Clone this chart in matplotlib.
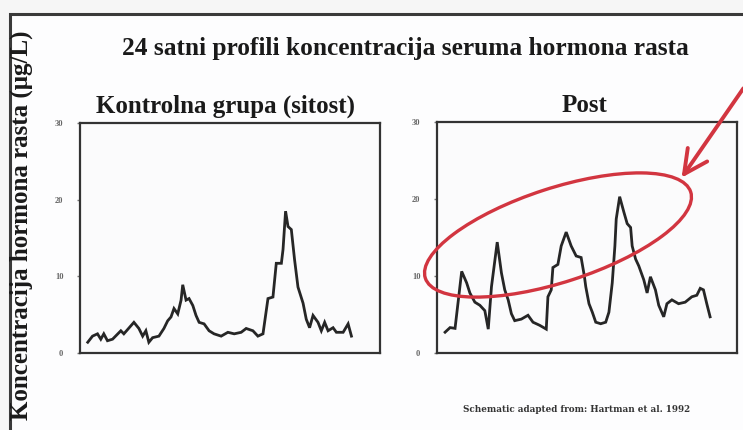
import matplotlib.pyplot as plt
from matplotlib.patches import Ellipse, Rectangle

# 24h growth hormone profiles (hours, ug/L)
t_kontrola = [0.0, 0.43, 0.88, 1.18, 1.45, 1.78, 2.24, 2.99, 3.26, 4.17, 4.62, 4.96,
              5.25, 5.52, 5.86, 6.43, 6.88, 7.22, 7.52, 7.79, 8.13, 8.43, 8.58, 8.88,
              9.15, 9.49, 9.78, 10.06, 10.51, 10.96, 11.41, 12.05, 12.66, 13.23, 13.86,
              14.31, 14.92, 15.37, 15.83, 16.28, 16.73, 17.03, 17.49, 17.64, 17.87,
              18.09, 18.39, 18.68, 18.99, 19.45, 19.74, 20.04, 20.35, 20.80, 21.10,
              21.40, 21.71, 22.16, 22.46, 23.07, 23.52, 23.82]
gh_kontrola = [1.4, 2.2, 2.5, 1.8, 2.5, 1.6, 1.8, 2.9, 2.5, 4.0, 3.2, 2.2,
               2.9, 1.4, 2.0, 2.2, 3.2, 4.2, 4.7, 5.8, 5.1, 6.9, 8.9, 6.9,
               7.1, 6.2, 4.9, 4.0, 3.8, 2.9, 2.5, 2.2, 2.7, 2.5, 2.7,
               3.2, 2.9, 2.2, 2.5, 7.1, 7.3, 11.7, 11.7, 13.5, 18.5,
               16.5, 16.1, 12.2, 8.6, 6.5, 4.4, 3.3, 4.9, 4.0, 2.9,
               4.0, 2.9, 3.3, 2.7, 2.7, 3.8, 2.2]

t_post = [0.03, 0.48, 0.93, 1.23, 1.53, 1.98, 2.27, 2.72, 3.17, 3.62, 3.93, 4.22,
          4.74, 5.12, 5.42, 5.73, 6.02, 6.32, 6.92, 7.52, 7.97, 8.57, 9.17, 9.32,
          9.62, 9.77, 10.22, 10.52, 10.97, 11.42, 11.87, 12.32, 12.61, 12.74, 13.03,
          13.33, 13.64, 14.09, 14.54, 14.83, 15.13, 15.37, 15.49, 15.80, 16.18,
          16.48, 16.79, 16.93, 17.24, 17.53, 17.98, 18.28, 18.58, 19.03, 19.33,
          19.78, 20.07, 20.52, 21.12, 21.72, 22.32, 22.77, 23.08, 23.37, 23.67, 23.97]
gh_post = [2.7, 3.3, 3.2, 6.9, 10.6, 9.1, 7.8, 6.6, 6.2, 5.5, 3.1, 8.6,
           14.4, 10.4, 8.2, 6.9, 5.1, 4.2, 4.4, 4.9, 4.0, 3.6, 3.1, 7.3,
           8.2, 11.1, 11.5, 13.9, 15.7, 13.9, 12.6, 12.4, 10.0, 8.6, 6.4,
           5.3, 4.0, 3.8, 4.0, 5.3, 9.1, 13.9, 17.4, 20.3, 18.3,
           16.8, 16.3, 13.9, 12.2, 11.3, 9.5, 7.8, 9.9, 8.2, 6.2,
           4.7, 6.4, 6.9, 6.4, 6.6, 7.3, 7.5, 8.4, 8.2, 6.4, 4.7]

y_ticks = [0, 10, 20, 30]

W, H = 743, 430
fig = plt.figure(figsize=(W / 100, H / 100), dpi=100)
fig.patch.set_facecolor('#f6f6f6')

serif = 'Liberation Serif'
line_col = '#262626'


def panel(rect, t, v):
    ax = fig.add_axes(rect)
    ax.plot(t, v, color=line_col, lw=2.0, solid_joinstyle='miter')
    ax.set_xlim(-0.7, 26.4)
    ax.set_ylim(0, 30)
    ax.set_xticks([])
    ax.set_yticks(y_ticks)
    ax.tick_params(axis='y', length=2, width=1, color='#777777', pad=10,
                   labelsize=6, labelcolor='#666666')
    for lab in ax.get_yticklabels():
        lab.set_fontfamily(serif)
        lab.set_fontweight('bold')
    for s in ax.spines.values():
        s.set_linewidth(1.6)
        s.set_color('#333333')
    ax.set_facecolor('#fbfbfc')
    return ax


def px_rect(x0, y0, x1, y1):
    return [x0 / W, 1 - y1 / H, (x1 - x0) / W, (y1 - y0) / H]


# slide frame (top and left edges visible)
fig.add_artist(Rectangle((10 / W, -0.1), 2, 1 - 14 / H + 0.1,
                         transform=fig.transFigure, facecolor='#fdfdfe',
                         edgecolor='#3a3a3a', lw=2.2, zorder=-5))

ax1 = panel(px_rect(80, 123, 380, 353), t_kontrola, gh_kontrola)
ax2 = panel(px_rect(437, 122, 737, 353), t_post, gh_post)

# overlay in pixel units for texts and red markings
ov = fig.add_axes([0, 0, 1, 1], zorder=10)
ov.set_xlim(0, W)
ov.set_ylim(H, 0)
ov.axis('off')
ov.patch.set_alpha(0)

txt = dict(fontweight='bold', family=serif, color='#1a1a1a')
ov.text(405, 48, '24 satni profili koncentracija seruma hormona rasta',
        ha='center', va='center', fontsize=18.3, **txt)
ov.text(225, 106, 'Kontrolna grupa (sitost)', ha='center', va='center',
        fontsize=18, **txt)
ov.text(585, 106, 'Post', ha='center', va='center', fontsize=18, **txt)
ov.text(21, 225, 'Koncentracija hormona rasta (\u03bcg/L)', ha='center',
        va='center', rotation=90, fontsize=18, **txt)
ov.text(577, 409, 'Schematic adapted from: Hartman et al. 1992', ha='center',
        va='center', fontsize=6.3, fontweight='bold', family='DejaVu Serif',
        color='#333333')

red = '#d23540'
ov.add_patch(Ellipse((558, 235), 279, 94, angle=-18, fill=False,
                     edgecolor=red, lw=2.4))
ov.annotate('', xy=(680, 180), xytext=(745, 86),
            arrowprops=dict(arrowstyle='->,head_length=1.7,head_width=0.85',
                            color=red, lw=2.8))

fig.savefig('out.png', dpi=100, facecolor=fig.get_facecolor())
